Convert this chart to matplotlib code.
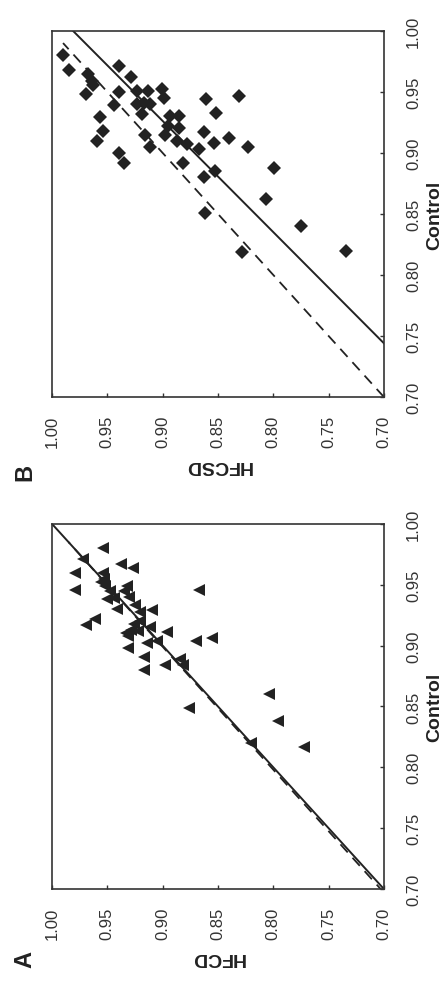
import matplotlib
matplotlib.use('Agg')
import matplotlib.pyplot as plt
import numpy as np

plt.rcParams['font.family'] = ['Liberation Sans', 'DejaVu Sans']

# panel A: HFCD vs Control (triangles)
hfcd_a = [0.954, 0.972, 0.979, 0.979, 0.938, 0.927, 0.954, 0.956, 0.952, 0.932,
          0.935, 0.867, 0.950, 0.944, 0.941, 0.925, 0.920, 0.910, 0.969, 0.961,
          0.920, 0.911, 0.929, 0.931, 0.896, 0.914, 0.905, 0.931, 0.870, 0.855,
          0.917, 0.884, 0.882, 0.898, 0.917, 0.876, 0.804, 0.796, 0.820, 0.772,
          0.953, 0.948, 0.930, 0.926, 0.933, 0.922]
control_a = [0.980, 0.971, 0.960, 0.946, 0.967, 0.964, 0.960, 0.952, 0.949, 0.949,
             0.945, 0.946, 0.938, 0.939, 0.930, 0.933, 0.928, 0.929, 0.917, 0.922,
             0.920, 0.915, 0.913, 0.908, 0.911, 0.902, 0.904, 0.898, 0.904, 0.906,
             0.891, 0.889, 0.884, 0.884, 0.880, 0.849, 0.860, 0.838, 0.820, 0.817,
             0.955, 0.945, 0.940, 0.918, 0.910, 0.912]

# panel B: HFCSD vs Control (diamonds)
hfcsd_b = [0.990, 0.985, 0.939, 0.967, 0.964, 0.963, 0.929, 0.969, 0.939, 0.923,
           0.913, 0.901, 0.899, 0.923, 0.911, 0.917, 0.944, 0.919, 0.957, 0.954,
           0.959, 0.893, 0.885, 0.895, 0.885, 0.898, 0.916, 0.887, 0.878, 0.911,
           0.867, 0.861, 0.852, 0.831, 0.863, 0.854, 0.840, 0.823, 0.939, 0.935,
           0.882, 0.863, 0.853, 0.862, 0.799, 0.807, 0.775, 0.828, 0.734]
control_b = [0.980, 0.968, 0.971, 0.965, 0.959, 0.956, 0.962, 0.948, 0.950, 0.951,
             0.951, 0.952, 0.945, 0.940, 0.940, 0.941, 0.939, 0.932, 0.929, 0.918,
             0.910, 0.930, 0.930, 0.922, 0.920, 0.915, 0.915, 0.910, 0.907, 0.905,
             0.903, 0.944, 0.933, 0.947, 0.917, 0.908, 0.912, 0.905, 0.900, 0.892,
             0.892, 0.880, 0.885, 0.851, 0.888, 0.862, 0.840, 0.819, 0.820]

# fitted / identity lines (hfcd, control end points)
line_a_solid = ([0.700, 1.000], [0.700, 1.000])
line_a_dash = ([0.700, 0.985], [0.697, 0.985])
line_b_solid = ([0.700, 0.981], [0.744, 1.000])
line_b_dash = ([0.700, 0.990], [0.700, 0.990])

ticks = [0.70, 0.75, 0.80, 0.85, 0.90, 0.95, 1.00]
tick_labels = ['%.2f' % t for t in ticks]

ink = '#222222'

fig = plt.figure(figsize=(4.48, 9.95), dpi=100)


def make_panel(rect, x, y, marker, ms, solid, dash, ylab, letter, letter_y):
    ax = fig.add_axes(rect)
    ax.plot(dash[0], dash[1], color=ink, lw=1.3, dashes=(6, 4), zorder=2)
    ax.plot(solid[0], solid[1], color=ink, lw=1.4, zorder=2)
    ax.plot(x, y, linestyle='none', marker=marker, ms=ms, color=ink,
            markeredgewidth=0, zorder=3)
    ax.set_xlim(1.0, 0.7)
    ax.set_ylim(0.7, 1.0)
    ax.set_xticks(ticks)
    ax.set_xticklabels(tick_labels, rotation=90)
    ax.set_yticks(ticks)
    ax.set_yticklabels(tick_labels, rotation=90, va='center')
    ax.yaxis.tick_right()
    ax.yaxis.set_label_position('right')
    ax.tick_params(axis='both', direction='in', length=3, width=1.0,
                   colors='#333333', labelsize=12, labelcolor='#333333')
    ax.tick_params(axis='x', pad=13)
    ax.tick_params(axis='y', pad=16)
    for s in ax.spines.values():
        s.set_linewidth(1.2)
        s.set_color('#333333')
    ax.set_xlabel(ylab, fontsize=14, fontweight='bold', rotation=180,
                  color=ink, labelpad=6)
    ax.set_ylabel('Control', fontsize=14, fontweight='bold', rotation=90,
                  color=ink, labelpad=4)
    fig.text(0.055, letter_y, letter, fontsize=17, fontweight='bold',
             rotation=90, ha='center', va='center', color=ink)
    return ax


make_panel([0.116, 0.1055, 0.741, 0.367], hfcd_a, control_a, '<', 9,
           line_a_solid, line_a_dash, 'HFCD', 'A', 1 - 960 / 995)
make_panel([0.116, 0.600, 0.741, 0.368], hfcsd_b, control_b, 'D', 7.5,
           line_b_solid, line_b_dash, 'HFCSD', 'B', 1 - 472 / 995)

plt.savefig('out.png', dpi=100)
